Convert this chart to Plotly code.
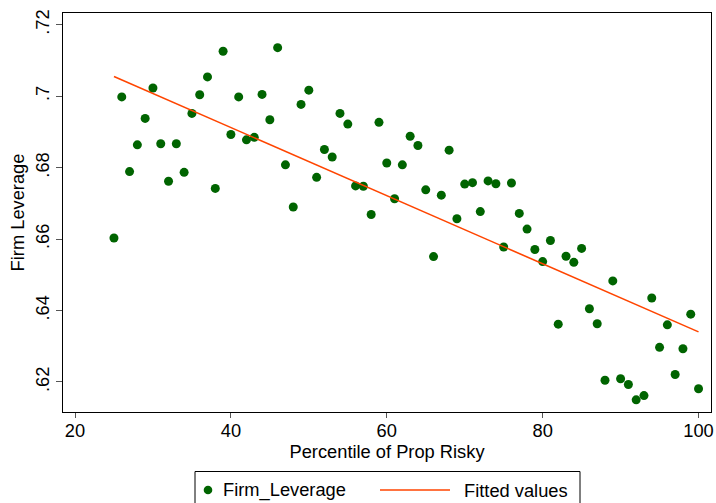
import numpy as np
import plotly.graph_objects as go

# Data
percentile = list(range(25, 101))
firm_leverage = [
    0.6603, 0.6998, 0.6789, 0.6864, 0.6938, 0.7023, 0.6867, 0.6762, 0.6867, 0.6787,
    0.6952, 0.7004, 0.7054, 0.6742, 0.7126, 0.6893, 0.6998, 0.6878, 0.6885, 0.7005,
    0.6934, 0.7136, 0.6808, 0.6690, 0.6977, 0.7017, 0.6773, 0.6851, 0.6830, 0.6952,
    0.6922, 0.6749, 0.6748, 0.6669, 0.6927, 0.6813, 0.6713, 0.6808, 0.6888, 0.6862,
    0.6738, 0.6551, 0.6723, 0.6849, 0.6657, 0.6754, 0.6758, 0.6677, 0.6763, 0.6755,
    0.6578, 0.6757, 0.6672, 0.6628, 0.6571, 0.6537, 0.6596, 0.6362, 0.6552, 0.6535,
    0.6574, 0.6405, 0.6363, 0.6205, 0.6483, 0.6209, 0.6193, 0.6150, 0.6162, 0.6435,
    0.6297, 0.6360, 0.6221, 0.6293, 0.6390, 0.6181,
]
x_tick_vals = [20, 40, 60, 80, 100]
y_tick_vals = [0.62, 0.64, 0.66, 0.68, 0.70, 0.72]
y_tick_text = [".62", ".64", ".66", ".68", ".7", ".72"]
series_names = ["Firm_Leverage", "Fitted values"]

# Linear fit (Stata lfit)
slope, intercept = np.polyfit(percentile, firm_leverage, 1)
fitted = [intercept + slope * v for v in percentile]

FONT = "Liberation Sans"
FS = 18.3
DOT = "#006400"
LINE = "#FF4500"

W, H = 716, 503
ML, MR, MT, MB = 63, 5, 13, 91
PW, PH = W - ML - MR, H - MT - MB


def px_x(p):  # page pixel -> paper x
    return (p - ML) / PW


def px_y(p):  # page pixel -> paper y
    return (H - MB - p) / PH


fig = go.Figure()
fig.add_trace(go.Scatter(
    x=percentile, y=firm_leverage, mode="markers", name=series_names[0],
    marker=dict(color=DOT, size=9, line=dict(width=0)), showlegend=False,
))
fig.add_trace(go.Scatter(
    x=percentile, y=fitted, mode="lines", name=series_names[1],
    line=dict(color=LINE, width=1.6), showlegend=False,
))

# Stata-style legend box drawn in paper coordinates
leg_y = 490
shapes = [
    dict(type="rect", xref="paper", yref="paper",
         x0=px_x(195), x1=px_x(580), y0=px_y(520), y1=px_y(471.5),
         line=dict(color="black", width=1), fillcolor="white", layer="above"),
    dict(type="circle", xref="paper", yref="paper",
         x0=px_x(208 - 4.3), x1=px_x(208 + 4.3), y0=px_y(leg_y + 4.3), y1=px_y(leg_y - 4.3),
         line=dict(width=0), fillcolor=DOT, layer="above"),
    dict(type="line", xref="paper", yref="paper",
         x0=px_x(380), x1=px_x(450), y0=px_y(leg_y), y1=px_y(leg_y),
         line=dict(color=LINE, width=1.6), layer="above"),
]
annotations = [
    dict(text=series_names[0], xref="paper", yref="paper", x=px_x(221), y=px_y(leg_y),
         xanchor="left", yanchor="middle", showarrow=False,
         font=dict(family=FONT, size=FS, color="black")),
    dict(text=series_names[1], xref="paper", yref="paper", x=px_x(461.5), y=px_y(leg_y),
         xanchor="left", yanchor="middle", showarrow=False,
         font=dict(family=FONT, size=FS, color="black")),
]

fig.update_layout(
    width=W, height=H,
    margin=dict(l=ML, r=MR, t=MT, b=MB),
    paper_bgcolor="white", plot_bgcolor="white",
    font=dict(family=FONT, size=FS, color="black"),
    showlegend=False,
    shapes=shapes, annotations=annotations,
)
fig.update_xaxes(
    range=[18.46, 101.6], tickvals=x_tick_vals, automargin=False,
    showgrid=False, zeroline=False,
    showline=True, linecolor="black", linewidth=1, mirror=True,
    ticks="outside", ticklen=5, tickcolor="#555555", tickwidth=1,
    ticklabelstandoff=-3,
    tickfont=dict(family=FONT, size=FS, color="black"),
    title=dict(text="Percentile of Prop Risky", font=dict(family=FONT, size=FS, color="black"), standoff=1),
)
fig.update_yaxes(
    range=[0.6116, 0.7233], tickvals=y_tick_vals, ticktext=y_tick_text, automargin=False,
    tickangle=-90,
    showgrid=False, zeroline=False,
    showline=True, linecolor="black", linewidth=1, mirror=True,
    ticks="outside", ticklen=6, tickcolor="#555555", tickwidth=1,
    tickfont=dict(family=FONT, size=FS, color="black"),
    title=dict(text="Firm Leverage", font=dict(family=FONT, size=FS, color="black"), standoff=2),
)

fig.write_html(
    "out.html",
    config={"displayModeBar": False},
    post_script="document.documentElement.style.margin='0';document.body.style.margin='0';document.body.style.overflow='hidden';",
)
